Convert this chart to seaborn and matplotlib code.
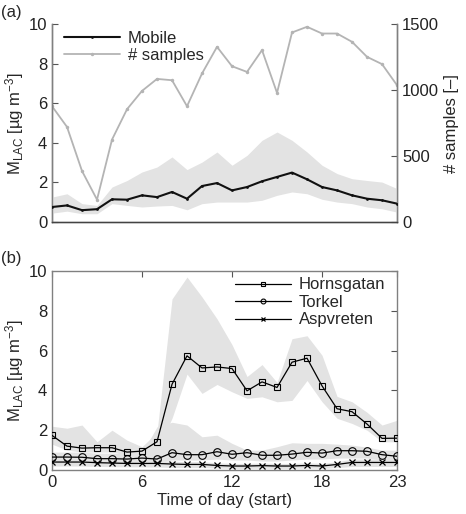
import numpy as np
import matplotlib
matplotlib.use("Agg")
import matplotlib.pyplot as plt
import seaborn as sns

hours = list(range(24))

# panel (a): mobile measurements
mobile = [0.76, 0.84, 0.60, 0.65, 1.15, 1.13, 1.35, 1.26, 1.52, 1.18, 1.82, 1.97,
          1.60, 1.77, 2.06, 2.28, 2.50, 2.16, 1.77, 1.60, 1.35, 1.18, 1.10, 0.93]
mobile_lo = [0.45, 0.55, 0.42, 0.42, 0.93, 0.84, 0.76, 0.81, 0.84, 0.62, 0.93, 1.01,
             1.01, 1.01, 1.10, 1.35, 1.52, 1.43, 1.15, 1.01, 0.93, 0.76, 0.67, 0.50]
mobile_hi = [1.26, 1.43, 0.93, 0.84, 1.77, 2.10, 2.53, 2.78, 3.29, 2.65, 3.03, 3.54,
             2.87, 3.37, 4.13, 4.55, 4.13, 3.54, 2.87, 2.45, 2.19, 2.10, 2.02, 1.69]
n_samples = [878, 721, 387, 170, 625, 855, 994, 1085, 1075, 878, 1126, 1328,
             1181, 1138, 1303, 979, 1437, 1480, 1429, 1429, 1366, 1252, 1197, 1037]

# panel (b): fixed sites
horns = [1.74, 1.20, 1.10, 1.12, 1.12, 0.90, 0.95, 1.42, 4.31, 5.74, 5.13, 5.18,
         5.10, 3.98, 4.43, 4.15, 5.42, 5.62, 4.23, 3.08, 2.93, 2.31, 1.59, 1.60]
horns_lo = [1.30, 1.00, 0.90, 0.90, 0.90, 0.75, 0.75, 1.00, 2.60, 4.82, 3.85, 4.30,
            3.93, 3.60, 3.68, 3.43, 3.50, 4.50, 3.43, 2.60, 2.34, 2.00, 1.42, 1.42]
horns_hi = [2.20, 2.10, 2.26, 1.42, 2.00, 1.50, 1.17, 1.90, 8.60, 9.70, 8.70, 7.60,
            6.30, 4.70, 5.30, 4.40, 6.60, 6.75, 5.77, 3.70, 3.43, 2.90, 2.26, 2.50]
torkel = [0.65, 0.65, 0.64, 0.57, 0.57, 0.55, 0.60, 0.55, 0.87, 0.77, 0.77, 0.92,
          0.79, 0.87, 0.74, 0.74, 0.80, 0.89, 0.85, 0.97, 0.97, 0.94, 0.77, 0.69]
torkel_lo = [0.40, 0.40, 0.40, 0.35, 0.35, 0.35, 0.38, 0.40, 0.50, 0.50, 0.50, 0.55,
             0.50, 0.50, 0.45, 0.45, 0.50, 0.55, 0.55, 0.60, 0.60, 0.60, 0.50, 0.45]
torkel_hi = [0.90, 0.90, 0.90, 0.85, 0.85, 0.80, 0.85, 2.17, 2.40, 2.26, 1.67, 1.75,
             1.34, 1.00, 1.00, 1.17, 1.37, 1.34, 1.34, 1.30, 1.25, 1.15, 1.00, 1.00]
aspv = [0.40, 0.40, 0.40, 0.37, 0.35, 0.33, 0.33, 0.33, 0.30, 0.28, 0.28, 0.23,
        0.20, 0.20, 0.22, 0.20, 0.20, 0.23, 0.20, 0.28, 0.38, 0.38, 0.38, 0.38]
aspv_lo = [0.20, 0.20, 0.20, 0.18, 0.17, 0.16, 0.16, 0.15, 0.13, 0.12, 0.12, 0.10,
           0.08, 0.08, 0.09, 0.08, 0.08, 0.10, 0.08, 0.12, 0.18, 0.18, 0.18, 0.18]
aspv_hi = [0.55, 0.55, 0.55, 0.52, 0.50, 0.48, 0.48, 0.48, 0.45, 0.42, 0.42, 0.36,
           0.33, 0.33, 0.35, 0.33, 0.33, 0.36, 0.33, 0.42, 0.55, 0.55, 0.55, 0.55]

sns.set_theme(style="white")
plt.rcParams["font.family"] = ["Liberation Sans", "DejaVu Sans"]
plt.rcParams["mathtext.fontset"] = "custom"
plt.rcParams["mathtext.rm"] = "Liberation Sans"
plt.rcParams["mathtext.it"] = "Liberation Sans:italic"
plt.rcParams["font.size"] = 10.5
plt.rcParams["xtick.direction"] = "in"
plt.rcParams["ytick.direction"] = "in"

band = "#e3e3e3"
spine_col = "#808080"
grey_line = "#b4b4b4"
ylab = "M$_{\\rm LAC}$ [\u00b5g m$^{-3}$]"

fig = plt.figure(figsize=(4.66, 5.14), dpi=100)
ax1 = fig.add_axes([0.1116, 0.568, 0.7404, 0.385])
ax2 = fig.add_axes([0.1116, 0.0856, 0.7404, 0.387])

# ---- (a)
ax1.fill_between(hours, mobile_lo, mobile_hi, color=band, lw=0, zorder=1)
sns.lineplot(x=hours, y=mobile, ax=ax1, color="#111111", lw=1.5, marker="o",
             markersize=2, markeredgewidth=0, label="Mobile", zorder=3)
ax1r = ax1.twinx()
sns.lineplot(x=hours, y=n_samples, ax=ax1r, color=grey_line, lw=1.3, marker="o",
             markersize=2.5, markeredgewidth=0, zorder=2, legend=False)
ax1.plot([], [], color=grey_line, lw=1.3, marker="o", markersize=2.5,
         markeredgewidth=0, label="# samples")
ax1.set_zorder(ax1r.get_zorder() + 1)
ax1.patch.set_visible(False)

ax1.set_xlim(0, 23)
ax1.set_ylim(0, 10)
ax1r.set_ylim(0, 1500)
ax1.set_xticks([0, 6, 12, 18, 23])
ax1.set_xticklabels([])
ax1.set_yticks([0, 2, 4, 6, 8, 10])
ax1r.set_yticks([0, 500, 1000, 1500])
ax1.set_ylabel(ylab, fontsize=12, labelpad=2)
ax1r.set_ylabel("# samples [\u2013]", fontsize=12, labelpad=4)
for a in (ax1, ax1r):
    a.spines["top"].set_visible(False)
    for s in ("left", "right", "bottom"):
        a.spines[s].set_color(spine_col)
        a.spines[s].set_linewidth(1.0)
    a.tick_params(labelsize=12, colors="#222222", length=4, width=0.8,
                  color="#555555")
ax1.spines["bottom"].set_color("#444444")
ax1.legend(loc="upper left", frameon=False, fontsize=12, handlelength=3.4,
           borderaxespad=0.1, labelspacing=0.15, handletextpad=0.45,
           bbox_to_anchor=(0.01, 1.01))

# ---- (b)
for lo, hi in ((horns_lo, horns_hi), (torkel_lo, torkel_hi), (aspv_lo, aspv_hi)):
    ax2.fill_between(hours, lo, hi, color=band, lw=0, zorder=1)
sns.lineplot(x=hours, y=horns, ax=ax2, color="black", lw=0.9, marker="s",
             markersize=5, markerfacecolor="none", markeredgecolor="black",
             markeredgewidth=0.8, label="Hornsgatan", zorder=3)
sns.lineplot(x=hours, y=torkel, ax=ax2, color="black", lw=0.9, marker="o",
             markersize=5.5, markerfacecolor="none", markeredgecolor="black",
             markeredgewidth=0.8, label="Torkel", zorder=3)
sns.lineplot(x=hours, y=aspv, ax=ax2, color="black", lw=0.9, marker="x",
             markersize=4, markeredgecolor="black", markeredgewidth=0.9,
             label="Aspvreten", zorder=3)
ax2.set_xlim(0, 23)
ax2.set_ylim(0, 10)
ax2.set_xticks([0, 6, 12, 18, 23])
ax2.set_yticks([0, 2, 4, 6, 8, 10])
ax2.set_xlabel("Time of day (start)", fontsize=12, labelpad=2)
ax2.set_ylabel(ylab, fontsize=12, labelpad=2)
for s in ax2.spines.values():
    s.set_color(spine_col)
    s.set_linewidth(1.0)
ax2.tick_params(labelsize=12, colors="#222222", length=4, width=0.8,
                color="#555555", top=True, right=True)
leg = ax2.legend(loc="upper right", frameon=False, fontsize=12, handlelength=3.4,
                 borderaxespad=0.1, labelspacing=0.15, handletextpad=0.45,
                 bbox_to_anchor=(0.99, 1.01))
for h in leg.legend_handles:
    h.set_markersize(3.5)

fig.text(0.002, 0.975, "(a)", fontsize=12, va="center")
fig.text(0.002, 0.497, "(b)", fontsize=12, va="center")

fig.savefig("out.png", dpi=100)
